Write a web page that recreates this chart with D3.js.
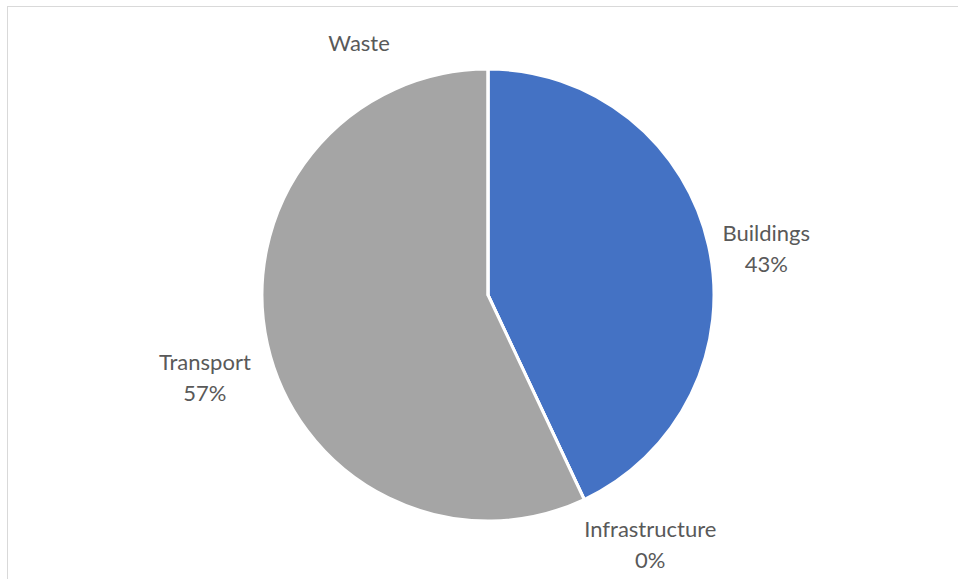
<!DOCTYPE html>
<html>
<head>
<meta charset="utf-8">
<script src="https://cdn.jsdelivr.net/npm/d3@7"></script>
<style>
  html, body { margin: 0; padding: 0; background: #fff; }
  svg { display: block; }
</style>
</head>
<body>
<svg id="chart" width="958" height="579"></svg>
<script>
// Emission share by sector
const categories = ["Buildings", "Infrastructure", "Transport", "Waste"];
const values = [43, 0, 57, null];
const colors = ["#4472C4", "#ED7D31", "#A5A5A5", "#FFC000"];

const W = 958, H = 579;
const cx = 488, cy = 295, radius = 226;

const svg = d3.select("#chart");

// chart area frame
svg.append("rect")
  .attr("x", 7.5).attr("y", 6.5)
  .attr("width", W + 10).attr("height", H + 10)
  .attr("fill", "#fff")
  .attr("stroke", "#D9D9D9")
  .attr("stroke-width", 1);

const data = categories.map((c, i) => ({ name: c, value: values[i], color: colors[i] }));
const total = d3.sum(data, d => d.value || 0);

const pie = d3.pie()
  .sort(null)
  .value(d => d.value || 0);

const arcs = pie(data);
const arc = d3.arc().innerRadius(0).outerRadius(radius);

const g = svg.append("g").attr("transform", `translate(${cx},${cy})`);

g.selectAll("path.slice")
  .data(arcs)
  .join("path")
  .attr("class", "slice")
  .attr("d", arc)
  .attr("fill", d => d.data.color)
  .attr("stroke", "#fff")
  .attr("stroke-width", 3)
  .attr("stroke-linejoin", "round");

// label placement: polar offset (degrees clockwise from top, distance) of each label block centre
const labelPlacement = {
  Buildings:      { angle: 80.6,  dist: 282 },
  Infrastructure: { angle: 147.0, dist: 298 },
  Transport:      { angle: 253.7, dist: 295 },
  Waste:          { angle: 332.9, dist: 283 }
};

const lineGap = 31;
const labels = g.selectAll("g.label")
  .data(arcs)
  .join("g")
  .attr("class", "label")
  .attr("transform", d => {
    const p = labelPlacement[d.data.name];
    const a = p.angle * Math.PI / 180;
    return `translate(${p.dist * Math.sin(a)},${-p.dist * Math.cos(a)})`;
  });

labels.each(function (d) {
  const sel = d3.select(this);
  const lines = [d.data.name];
  if (d.data.value !== null) lines.push(Math.round(d.data.value / total * 100) + "%");
  const y0 = -(lines.length - 1) * lineGap / 2;
  lines.forEach((t, i) => {
    sel.append("text")
      .attr("x", 0)
      .attr("y", y0 + i * lineGap)
      .attr("dy", "0.35em")
      .attr("text-anchor", "middle")
      .attr("font-family", "Lato, 'Open Sans', sans-serif")
      .attr("font-size", 22)
      .attr("fill", "#595959")
      .text(t);
  });
});
</script>
</body>
</html>
